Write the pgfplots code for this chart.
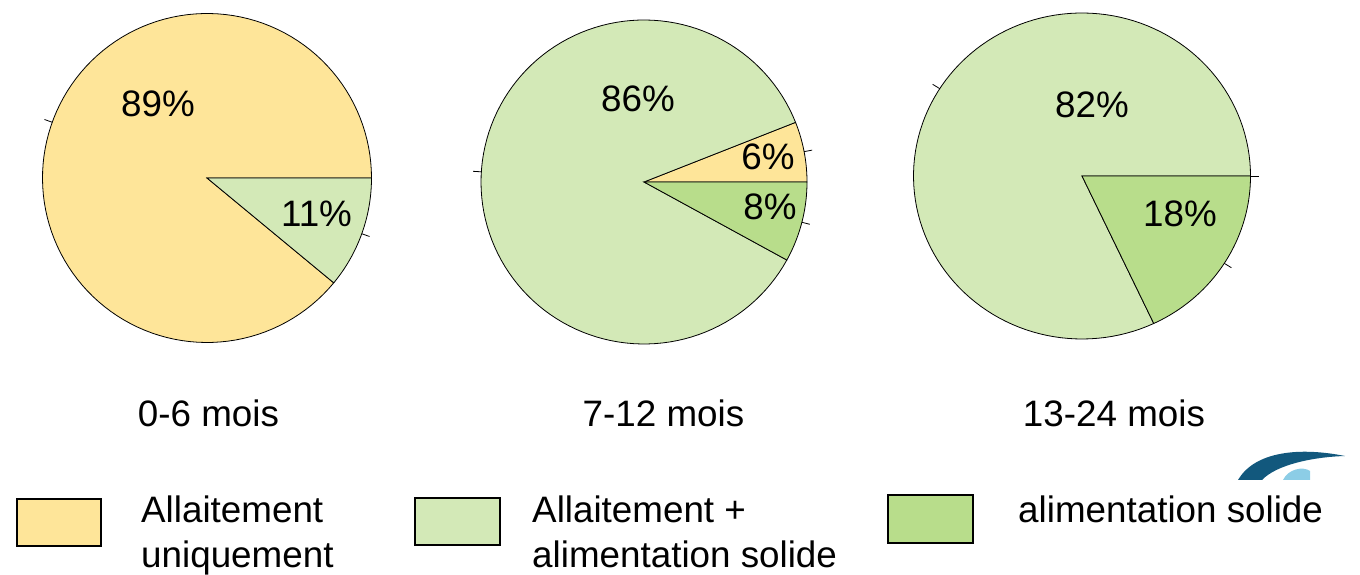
\documentclass[border=0pt]{standalone}
\usepackage{pgfplots}
\pgfplotsset{compat=1.18}
\usepackage{fontspec}
\setmainfont{Liberation Sans}
\definecolor{yel}{RGB}{254,229,153}
\definecolor{lgr}{RGB}{211,233,183}
\definecolor{dgr}{RGB}{184,221,139}
\definecolor{logob}{RGB}{18,88,125}
\definecolor{logol}{RGB}{140,205,230}
% slice: cx cy rx ry startpct endpct colour
\newcommand{\slice}[7]{%
  \addplot[draw=black, line width=0.8bp, fill=#7, domain={3.6*#5}:{3.6*#6}, samples=120, variable=\t]
    ({#1+#3*cos(\t)},{#2+#4*sin(\t)}) -- (axis cs:#1,#2) -- cycle;}
% tick: cx cy rx ry midpct
\newcommand{\ptick}[5]{%
  \addplot[draw=black, line width=0.8bp, domain=1:1.05, samples=2, variable=\s]
    ({#1+\s*#3*cos(3.6*#5)},{#2+\s*#4*sin(3.6*#5)});}
\begin{document}
\begin{tikzpicture}
\begin{axis}[name=ax, at={(0,0)}, anchor=south west,
  width=1360bp, height=575bp, scale only axis,
  xmin=0, xmax=1360, ymin=0, ymax=575, hide axis, clip=false]
% Pie 1 : 0-6 mois (89 / 11)
\slice{207}{397}{164.5}{164.5}{0}{89}{yel}
\slice{207}{397}{164.5}{164.5}{89}{100}{lgr}
\ptick{207}{397}{164.5}{164.5}{44.5}
\ptick{207}{397}{164.5}{164.5}{94.5}
% Pie 2 : 7-12 mois (6 / 86 / 8)
\slice{644}{393}{163}{162}{0}{6}{yel}
\slice{644}{393}{163}{162}{6}{92}{lgr}
\slice{644}{393}{163}{162}{92}{100}{dgr}
\ptick{644}{393}{163}{162}{3}
\ptick{644}{393}{163}{162}{49}
\ptick{644}{393}{163}{162}{96}
% Pie 3 : 13-24 mois (0 / 82 / 18)
\slice{1082}{399}{168.5}{163}{0}{82}{lgr}
\slice{1082}{399}{168.5}{163}{82}{100}{dgr}
\ptick{1082}{399}{168.5}{163}{0}
\ptick{1082}{399}{168.5}{163}{41}
\ptick{1082}{399}{168.5}{163}{91}
% percentage labels
\begin{scope}[every node/.style={anchor=base, inner sep=0pt, font=\fontsize{36.8bp}{37bp}\selectfont}]
\node at (axis cs:158,458) {89\%};
\node at (axis cs:316.5,348) {11\%};
\node at (axis cs:638,463) {86\%};
\node at (axis cs:768,405) {6\%};
\node at (axis cs:770,355) {8\%};
\node at (axis cs:1092,457) {82\%};
\node at (axis cs:1180,348) {18\%};
\node at (axis cs:208.5,148) {0-6 mois};
\node at (axis cs:663.5,148) {7-12 mois};
\node at (axis cs:1114,148) {13-24 mois};
\end{scope}
% logo fragment
\fill[logob] (axis cs:1238,95) .. controls (axis cs:1255,124) and (axis cs:1300,128) .. (axis cs:1345,119)
  .. controls (axis cs:1312,118) and (axis cs:1276,110) .. (axis cs:1262,95) -- cycle;
\fill[logol] (axis cs:1283,95) .. controls (axis cs:1288,106) and (axis cs:1303,109) .. (axis cs:1310,104) -- (axis cs:1310,95) -- cycle;
% legend
\draw[line width=2bp, fill=yel] (axis cs:17,29) rectangle (axis cs:101,76);
\draw[line width=2bp, fill=lgr] (axis cs:415,30) rectangle (axis cs:500,77);
\draw[line width=2bp, fill=dgr] (axis cs:888,32) rectangle (axis cs:973,80);
\begin{scope}[every node/.style={anchor=base west, inner sep=0pt, font=\fontsize{36.8bp}{37bp}\selectfont}]
\node at (axis cs:141,52) {Allaitement};
\node at (axis cs:141,8) {uniquement};
\node at (axis cs:532,52) {Allaitement +};
\node at (axis cs:532,8) {alimentation solide};
\node at (axis cs:1018,52) {alimentation solide};
\end{scope}
\end{axis}
\pgfresetboundingbox
\path (ax.south west) rectangle (ax.north east);
\end{tikzpicture}
\end{document}
